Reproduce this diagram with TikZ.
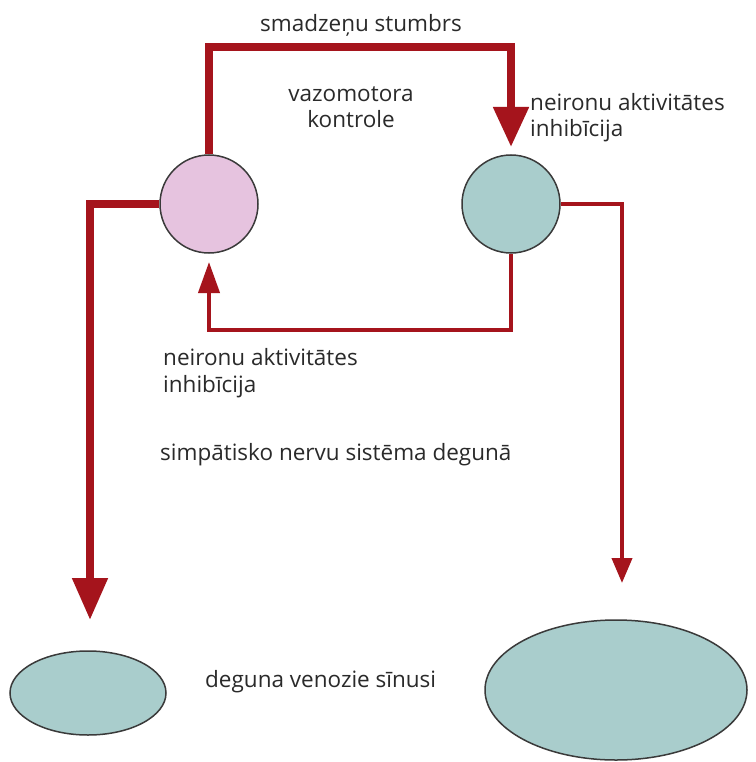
\documentclass[tikz,border=0pt]{standalone}
\usepackage{fontspec}
\setmainfont{Open Sans}
\usetikzlibrary{arrows.meta,shapes.geometric,calc}
\definecolor{arrowred}{HTML}{A5141C}
\definecolor{pinkfill}{HTML}{E6C3DF}
\definecolor{tealfill}{HTML}{A9CDCC}
\definecolor{outline}{HTML}{3A3A3A}
\definecolor{txt}{HTML}{2A2A2A}
\tikzset{
  circ/.style={circle, draw=outline, line width=1.5pt, minimum size=98pt, inner sep=0pt},
  ell/.style={ellipse, draw=outline, line width=1.5pt, fill=tealfill, inner sep=0pt},
  thick arrow/.style={draw=arrowred, line width=8pt, miter limit=10, -{Triangle[width=34pt,length=40pt]}},
  thin arrow/.style={draw=arrowred, line width=4pt, miter limit=10},
  lbl/.style={text=txt, font=\fontsize{22.5}{26.5}\selectfont, inner sep=0pt, align=left},
}
\begin{document}
\begin{tikzpicture}[x=1pt,y=-1pt]
\useasboundingbox[fill=white] (0,0) rectangle (755,762);

% nodes
\node[circ, fill=pinkfill] (P) at (209,204) {};
\node[circ, fill=tealfill] (T) at (511,204) {};
\node[ell, minimum width=156pt, minimum height=84pt] (E1) at (88,693) {};
\node[ell, minimum width=262pt, minimum height=140pt] (E2) at (616,690) {};

% connector corner / tip coordinates
\coordinate (topL) at (P.north |- 0,47);
\coordinate (topR) at (T.north |- 0,47);
\coordinate (tipT) at (511,147);
\coordinate (tipE1) at (90,620);
\coordinate (tipE2) at (622,583);
\coordinate (bot) at (0,330);
\coordinate (tipP) at (209,262);

% connectors
\draw[thick arrow] (P.north) -- (topL) -- (topR) -- (tipT);
\draw[thick arrow,-{Triangle[width=34pt,length=42pt]}] (P.west) -| (tipE1);
\draw[thin arrow,-{Triangle[width=20pt,length=25pt]}] (T.east) -| (tipE2);
\draw[thin arrow,-{Triangle[width=21pt,length=31pt]}] (T.south) |- (bot -| tipP) -- (tipP);

% labels (base anchor = baseline of last line)
\node[lbl, anchor=base] (l1) at (361,32) {smadzeņu stumbrs};
\node[lbl, anchor=base, align=center] (l2) at (351,128) {vazomotora\\kontrole};
\node[lbl, anchor=base west] (l3) at (530,137) {neironu aktivitātes\\inhibīcija};
\node[lbl, anchor=base west] (l4) at (163,392) {neironu aktivitātes\\inhibīcija};
\node[lbl, anchor=base west] (l5) at (160,460) {simpātisko nervu sistēma degunā};
\node[lbl, anchor=base west] (l6) at (205,687) {deguna venozie sīnusi};
\end{tikzpicture}
\end{document}
